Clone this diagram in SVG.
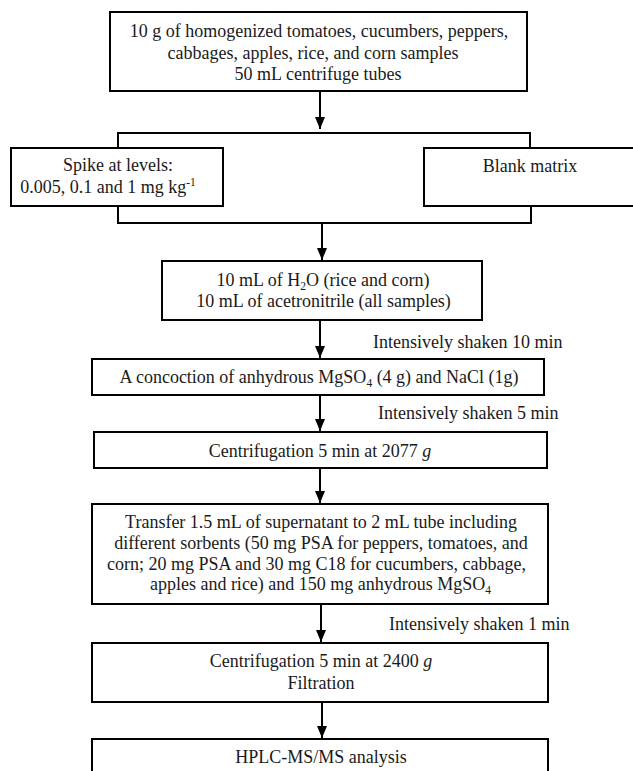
<svg xmlns="http://www.w3.org/2000/svg" width="633" height="771" viewBox="0 0 633 771" font-family="'Liberation Serif', 'DejaVu Serif', serif">
<defs>
<style>
.box{fill:#fff;stroke:#000;stroke-width:2}
.ln{fill:none;stroke:#000;stroke-width:2}
text{font-family:'Liberation Serif','DejaVu Serif',serif;font-size:18px;fill:#1a1a1a}
.c{text-anchor:middle}
.sub{font-size:11.5px}
</style>
<marker id="ah" viewBox="0 0 12 10" refX="12" refY="5" markerWidth="12" markerHeight="10" markerUnits="userSpaceOnUse" orient="auto">
<path d="M0,0 L12,5 L0,10 z" fill="#000"/>
</marker>
</defs>
<rect width="633" height="771" fill="#fff"/>
<g id="connectors">
<line class="ln" x1="320" y1="91" x2="320" y2="129" marker-end="url(#ah)"/>
<path class="ln" d="M118,148 V133 H530 V148"/>
<path class="ln" d="M118,206 V223 H531 V206"/>
<line class="ln" x1="322" y1="223" x2="322" y2="260" marker-end="url(#ah)"/>
<line class="ln" x1="320" y1="320" x2="320" y2="358" marker-end="url(#ah)"/>
<line class="ln" x1="320" y1="395" x2="320" y2="431" marker-end="url(#ah)"/>
<line class="ln" x1="320" y1="468" x2="320" y2="503" marker-end="url(#ah)"/>
<line class="ln" x1="321" y1="604" x2="321" y2="642" marker-end="url(#ah)"/>
<line class="ln" x1="322" y1="702" x2="322" y2="738" marker-end="url(#ah)"/>
<text x="373" y="348">Intensively shaken 10 min</text>
<text x="378" y="419">Intensively shaken 5 min</text>
<text x="389" y="630">Intensively shaken 1 min</text>
</g>
<g id="n1">
<rect class="box" x="110" y="12" width="417" height="79"/>
<text class="c" x="319" y="36.5">10 g of homogenized tomatoes, cucumbers, peppers,</text>
<text class="c" x="313" y="58.5">cabbages, apples, rice, and corn samples</text>
<text class="c" x="318" y="80">50 mL centrifuge tubes</text>
</g>
<g id="n2">
<rect class="box" x="11" y="148" width="212" height="58"/>
<text class="c" x="118" y="171">Spike at levels:</text>
<text class="c" x="108" y="192.5">0.005, 0.1 and 1 mg kg<tspan class="sub" dy="-7">-1</tspan></text>
</g>
<g id="n3">
<rect class="box" x="424" y="148" width="212" height="58"/>
<text class="c" x="530" y="172">Blank matrix</text>
</g>
<g id="n4">
<rect class="box" x="162" y="261" width="320" height="59"/>
<text class="c" x="323" y="286">10 mL of H<tspan class="sub" dy="4">2</tspan><tspan dy="-4">O (rice and corn)</tspan></text>
<text class="c" x="323.5" y="307">10 mL of acetronitrile (all samples)</text>
</g>
<g id="n5">
<rect class="box" x="92" y="359" width="452" height="36"/>
<text class="c" x="319" y="383">A concoction of anhydrous MgSO<tspan class="sub" dy="4">4</tspan><tspan dy="-4"> (4 g) and NaCl (1g)</tspan></text>
</g>
<g id="n6">
<rect class="box" x="94" y="432" width="453" height="36"/>
<text class="c" x="320" y="456.5">Centrifugation 5 min at 2077 <tspan font-style="italic">g</tspan></text>
</g>
<g id="n7">
<rect class="box" x="92" y="504" width="456" height="100"/>
<text class="c" x="321" y="528">Transfer 1.5 mL of supernatant to 2 mL tube including</text>
<text class="c" x="321" y="549">different sorbents (50 mg PSA for peppers, tomatoes, and</text>
<text class="c" x="316.5" y="569.5">corn; 20 mg PSA and 30 mg C18 for cucumbers, cabbage,</text>
<text class="c" x="320.5" y="590">apples and rice) and 150 mg anhydrous MgSO<tspan class="sub" dy="4">4</tspan></text>
</g>
<g id="n8">
<rect class="box" x="92" y="643" width="456" height="59"/>
<text class="c" x="321" y="667">Centrifugation 5 min at 2400 <tspan font-style="italic">g</tspan></text>
<text class="c" x="321" y="689">Filtration</text>
</g>
<g id="n9">
<rect class="box" x="92" y="739" width="456" height="50"/>
<text class="c" x="321" y="763">HPLC-MS/MS analysis</text>
</g>
</svg>
